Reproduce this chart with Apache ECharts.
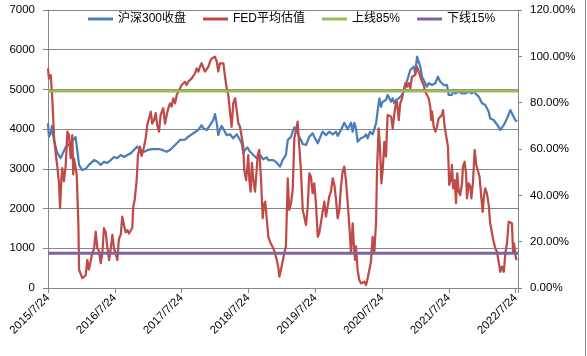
<!DOCTYPE html>
<html>
<head>
<meta charset="utf-8">
<script src="https://cdn.jsdelivr.net/npm/echarts@6/dist/echarts.min.js"></script>
<style>
html,body{margin:0;padding:0;background:#fff;}
#c{width:587px;height:356px;}
</style>
</head>
<body>
<div id="c"></div>
<script>
// x tick labels (one per year, starting 2015/7/24)
const xTickLabels = ['2015/7/24','2016/7/24','2017/7/24','2018/7/24','2019/7/24','2020/7/24','2021/7/24','2022/7/24'];
const yearDays = 365.25;
const lastDay = 2570; // data ends a little after 2022/7/24

// 沪深300收盘 : days since 2015/7/24, close
const hs300Days = [0,5,15,22,33,51,69,77,97,124,133,151,160,170,186,206,224,233,252,270,288,306,324,343,361,379,398,416,434,452,470,488,507,525,543,558,580,607,612,629,649,667,695,722,749,767,795,822,840,849,868,886,904,913,923,931,940,950,962,977,995,1013,1032,1050,1059,1068,1077,1090,1105,1123,1132,1141,1159,1177,1196,1205,1214,1232,1251,1269,1283,1301,1311,1319,1329,1338,1347,1356,1365,1383,1393,1411,1429,1447,1456,1465,1475,1493,1502,1520,1538,1557,1575,1584,1602,1620,1629,1639,1648,1657,1666,1675,1684,1693,1711,1730,1739,1748,1761,1775,1794,1803,1812,1821,1830,1848,1857,1876,1885,1894,1903,1918,1936,1954,1963,1981,1990,2000,2008,2018,2027,2036,2045,2063,2072,2082,2100,2118,2132,2145,2154,2164,2172,2182,2191,2200,2209,2218,2227,2246,2264,2282,2300,2318,2328,2336,2355,2373,2391,2410,2418,2437,2446,2464,2473,2482,2492,2510,2528,2537,2546,2555,2564];
const hs300Close = [4150,3810,3900,4080,3700,3400,3270,3220,3550,3650,3700,3800,3850,3100,2970,3000,3100,3050,3220,3180,3100,3180,3150,3220,3300,3270,3350,3300,3350,3390,3475,3560,3470,3430,3470,3490,3500,3500,3540,3470,3430,3475,3600,3727,3735,3810,3895,3980,4100,4020,3980,4100,4230,4380,4145,3850,3995,4080,3980,3850,3870,3770,3870,3727,3645,3390,3475,3540,3430,3350,3390,3265,3350,3240,3290,3220,3180,3220,3155,3055,3220,3350,3727,3685,3810,3935,4045,4020,3895,3727,3625,3600,3810,3895,3810,3850,3645,3850,3935,3850,3935,3870,3935,3830,3980,4160,4190,3995,4020,4160,3935,4160,4020,3685,3770,3810,3870,3770,3935,3870,4145,4480,4775,4560,4690,4735,4860,4690,4775,4650,4735,4775,4860,5070,5110,5490,5445,5570,5405,5825,5780,5570,5320,5155,5070,5155,5110,5155,5320,5195,5240,5110,5070,5110,4860,4900,4860,4985,4900,4945,4900,4900,4945,4900,4985,4900,4820,4650,4610,4440,4270,4230,4190,4060,3980,4020,4100,4270,4480,4440,4310,4230,4190];

// FED平均估值 : days since 2015/7/24, percentile (%)
const fedDays = [0,5,15,24,33,42,51,60,66,73,78,87,97,106,115,124,133,138,142,151,157,160,166,170,179,188,206,215,224,233,242,252,261,270,279,288,297,306,316,324,334,343,352,361,370,379,388,398,406,416,425,434,443,452,461,466,474,485,492,503,512,525,534,543,552,562,570,580,589,598,607,616,625,630,640,649,658,667,676,685,695,704,712,722,731,740,749,758,767,776,786,795,804,813,822,831,840,849,858,868,877,886,895,904,913,923,931,940,950,959,968,977,986,995,1004,1013,1023,1032,1041,1050,1059,1068,1073,1083,1090,1095,1101,1108,1115,1123,1132,1141,1147,1155,1165,1174,1181,1188,1196,1205,1214,1232,1241,1251,1259,1265,1274,1283,1292,1301,1311,1319,1329,1338,1347,1356,1365,1374,1383,1393,1401,1411,1420,1429,1438,1447,1456,1465,1475,1483,1493,1502,1511,1520,1529,1538,1547,1557,1566,1575,1584,1593,1602,1611,1620,1629,1639,1648,1657,1666,1672,1679,1684,1693,1702,1711,1720,1730,1739,1748,1757,1766,1775,1784,1794,1799,1808,1815,1823,1830,1839,1848,1857,1866,1876,1885,1890,1899,1908,1918,1926,1936,1945,1954,1963,1972,1981,1990,2000,2008,2018,2027,2036,2045,2054,2063,2072,2082,2090,2096,2100,2109,2118,2127,2136,2145,2154,2160,2169,2178,2187,2194,2202,2209,2215,2224,2231,2238,2246,2254,2264,2269,2278,2286,2291,2300,2309,2315,2324,2333,2342,2351,2360,2369,2377,2384,2391,2400,2410,2418,2428,2437,2446,2455,2464,2473,2482,2492,2501,2510,2519,2528,2537,2543,2548,2559,2564];
const fedPct = [94.8,90.5,91.9,81.0,65.3,58.1,52.4,45.2,34.4,47.0,51.7,46.0,53.0,67.5,66.0,56.0,66.0,49.0,56.0,52.0,48.8,49.0,27.9,7.8,7.8,4.2,5.5,12.1,8.0,11.5,15.0,17.0,24.3,17.0,16.0,10.7,15.0,25.8,24.0,18.0,12.0,17.0,22.9,17.0,15.0,12.1,21.4,23.0,30.8,27.0,24.0,25.0,23.5,24.0,26.0,35.1,38.0,46.6,57.4,61.0,57.0,61.0,64.6,70.4,71.0,76.1,71.0,72.5,75.5,70.0,67.5,74.7,74.0,77.6,71.0,74.7,77.6,79.7,78.3,81.9,79.7,83.3,84.7,86.2,87.6,86.9,89.0,87.6,89.0,89.8,90.5,91.2,92.7,94.8,93.4,95.5,97.0,96.3,93.4,94.1,95.5,97.7,99.1,99.8,99.8,97.7,93.4,97.0,96.3,97.0,91.2,86.2,83.3,76.1,69.6,79.7,81.9,81.2,71.1,69.6,68.9,61.0,50.9,46.6,52.0,57.4,46.6,41.6,54.0,46.6,41.6,41.0,57.4,59.6,46.6,30.1,36.0,37.3,30.0,22.1,20.0,17.1,15.0,12.1,9.0,4.9,8.0,11.4,15.0,18.0,47.3,33.7,36.6,42.3,64.6,65.3,71.8,61.0,51.0,33.7,33.0,27.2,35.0,49.5,48.0,40.9,45.2,36.6,22.1,23.6,28.6,29.4,37.3,30.8,35.1,39.5,41.6,47.3,44.5,38.0,30.1,33.7,43.8,50.2,52.4,46.6,36.6,26.5,15.0,27.9,19.0,12.1,18.0,7.8,3.5,2.0,1.3,2.7,1.3,4.2,7.8,11.4,22.1,15.0,28.6,50.9,68.9,61.0,45.2,50.9,63.1,56.7,74.7,74.0,74.0,68.9,72.5,78.3,80.5,72.5,79.7,81.9,85.5,88.4,86.9,88.4,86.2,91.2,90.5,91.9,95.5,96.3,91.2,89.1,87.6,84.7,83.3,81.9,78.3,72.5,76.1,69.6,67.5,69.6,73.2,73.2,74.7,76.8,69.6,65.3,61.0,44.5,46.6,53.1,43.0,46.6,36.6,49.5,41.6,40.1,45.2,52.4,54.5,49.5,38.7,45.2,43.8,38.7,45.9,59.6,53.1,53.1,48.0,39.4,32.9,40.0,43.0,40.9,35.8,27.9,23.6,20.0,17.1,15.7,11.4,7.0,9.2,7.0,15.0,19.3,28.6,29.3,27.9,15.0,19.3,12.8,12.1];

const upperPct = 85; // 上线85%
const lowerPct = 15; // 下线15%

const leftTicks = {min: 0, max: 7000, interval: 1000};
const rightTicks = {min: 0, max: 120, interval: 20};

const FONT = '"Liberation Sans", "Noto Sans CJK SC", sans-serif';
const AX = '#868686';
const C_BLUE = '#4A7EBB', C_RED = '#BE4B48', C_GREEN = '#9BBB59', C_PURPLE = '#8064A2';

const chart = echarts.init(document.getElementById('c'), null, {renderer: 'canvas'});

chart.setOption({
  animation: false,
  backgroundColor: '#ffffff',
  textStyle: {fontFamily: FONT},
  grid: {left: 48, right: 69, top: 10, bottom: 68, containLabel: false},
  legend: {
    left: 83, top: 8,
    itemWidth: 25, itemHeight: 3, itemGap: 17,
    textStyle: {fontSize: 12, color: '#000', fontFamily: FONT},
    data: [
      {name: '沪深300收盘', icon: 'rect', itemStyle: {color: C_BLUE}},
      {name: 'FED平均估值', icon: 'rect', itemStyle: {color: C_RED}},
      {name: '上线85%', icon: 'rect', itemStyle: {color: C_GREEN}},
      {name: '下线15%', icon: 'rect', itemStyle: {color: C_PURPLE}}
    ]
  },
  xAxis: {
    type: 'value', min: 0, max: lastDay, interval: yearDays,
    axisLine: {show: true, lineStyle: {color: AX, width: 1}},
    axisTick: {show: true, length: 5, lineStyle: {color: AX}},
    splitLine: {show: false},
    axisLabel: {
      rotate: 45, margin: 8, fontSize: 11.5, color: '#000', fontFamily: FONT,
      formatter: function (v) {
        const k = Math.round(v / yearDays);
        return Math.abs(v - k * yearDays) < 1 ? (xTickLabels[k] || '') : '';
      }
    }
  },
  yAxis: [
    {
      type: 'value', min: leftTicks.min, max: leftTicks.max, interval: leftTicks.interval,
      position: 'left',
      axisLine: {show: true, lineStyle: {color: AX}},
      axisTick: {show: true, length: 5, lineStyle: {color: AX}},
      splitLine: {show: true, lineStyle: {color: AX, width: 1}},
      axisLabel: {
        margin: 13, fontSize: 11.5, color: '#000', fontFamily: FONT,
        formatter: function (v) { return String(v); }
      }
    },
    {
      type: 'value', min: rightTicks.min, max: rightTicks.max, interval: rightTicks.interval,
      position: 'right',
      axisLine: {show: true, lineStyle: {color: AX}},
      axisTick: {show: true, length: 4, lineStyle: {color: AX}},
      splitLine: {show: false},
      axisLabel: {
        margin: 12, fontSize: 11.5, color: '#000', fontFamily: FONT,
        formatter: function (v) { return v.toFixed(2) + '%'; }
      }
    }
  ],
  series: [
    {
      name: '沪深300收盘', type: 'line', yAxisIndex: 0, symbol: 'none',
      lineStyle: {color: C_BLUE, width: 2.25, join: 'round'},
      itemStyle: {color: C_BLUE},
      data: hs300Days.map((d, i) => [d, hs300Close[i]])
    },
    {
      name: 'FED平均估值', type: 'line', yAxisIndex: 1, symbol: 'none',
      lineStyle: {color: C_RED, width: 2.25, join: 'round'},
      itemStyle: {color: C_RED},
      data: fedDays.map((d, i) => [d, fedPct[i]])
    },
    {
      name: '上线85%', type: 'line', yAxisIndex: 1, symbol: 'none',
      lineStyle: {color: C_GREEN, width: 3},
      itemStyle: {color: C_GREEN},
      data: [[0, upperPct], [lastDay, upperPct]]
    },
    {
      name: '下线15%', type: 'line', yAxisIndex: 1, symbol: 'none',
      lineStyle: {color: C_PURPLE, width: 3},
      itemStyle: {color: C_PURPLE},
      data: [[0, lowerPct], [lastDay, lowerPct]]
    }
  ],
  graphic: [
    {type: 'line', shape: {x1: 585.5, y1: 0, x2: 585.5, y2: 356}, style: {stroke: '#8a8a8a', lineWidth: 1}, silent: true}
  ]
});
</script>
</body>
</html>
